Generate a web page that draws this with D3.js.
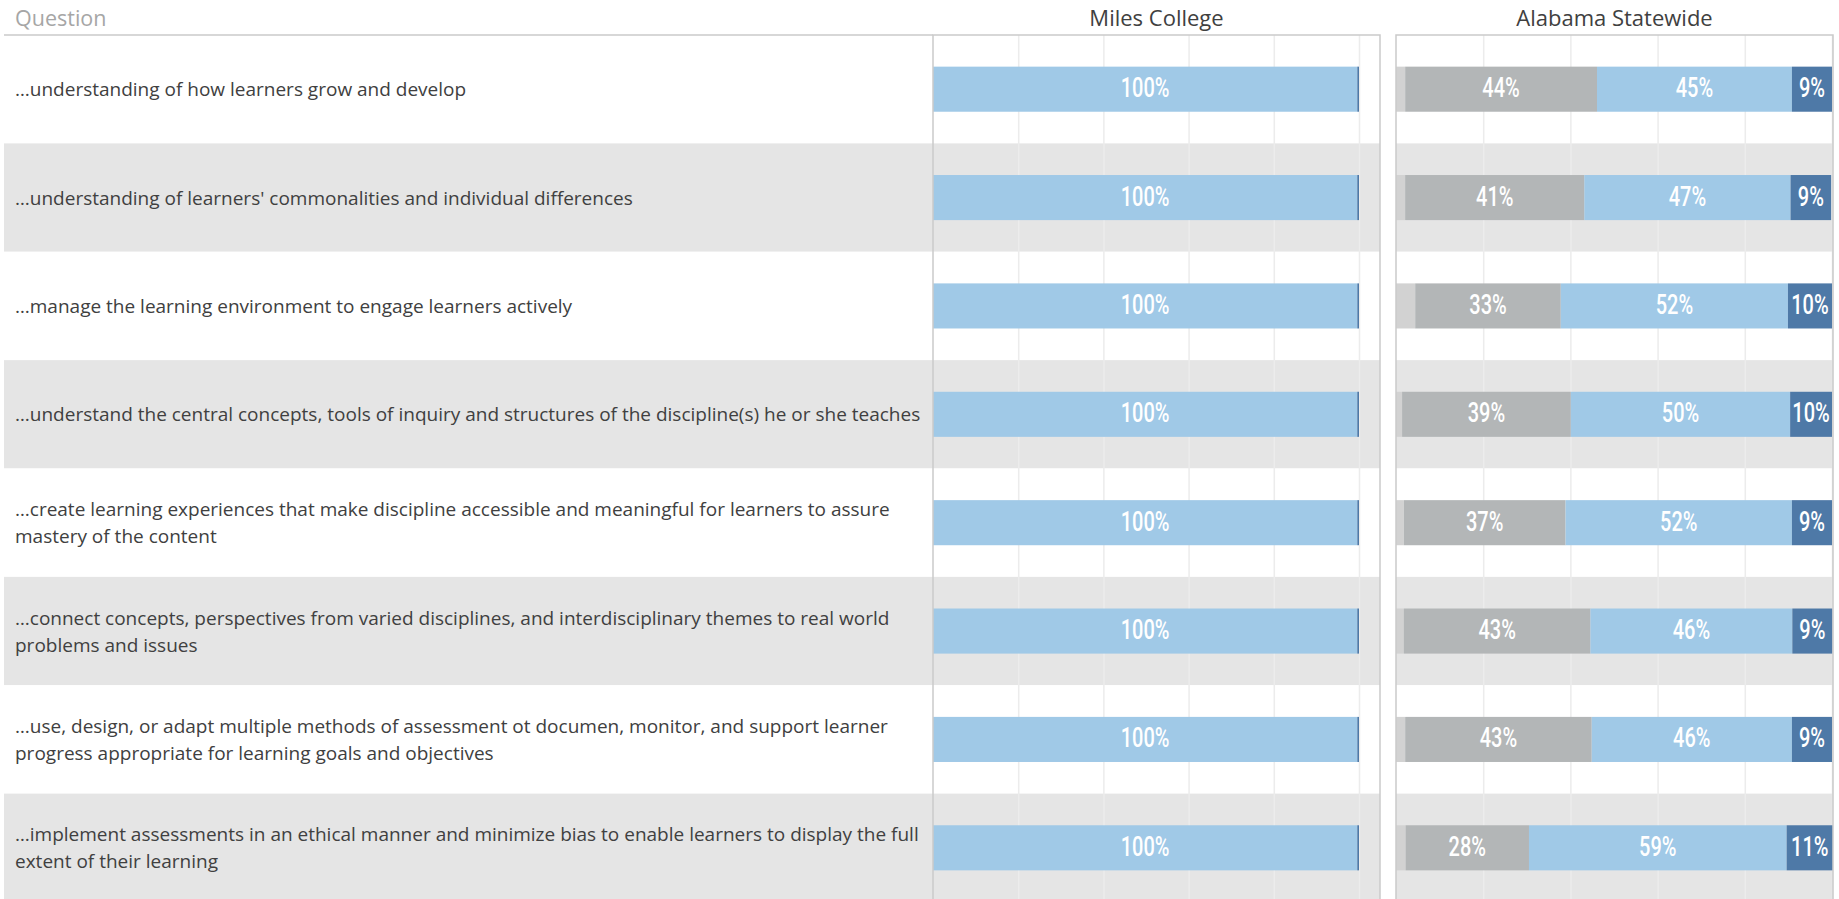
<!DOCTYPE html>
<html lang="en">
<head>
    <meta charset="UTF-8">
    <title>stacked bars</title>
    <script src="https://d3js.org/d3.v7.min.js"></script>
    <style>
        body { margin: 0; background: #fff; overflow: hidden; }
    </style>
</head>
<body>
    <svg></svg>
    <script>
        // questions (line breaks as in the original table)
        const questions = [
            "…understanding of how learners grow and develop",
            "…understanding of learners' commonalities and individual differences",
            "…manage the learning environment to engage learners actively",
            "…understand the central concepts, tools of inquiry and structures of the discipline(s) he or she teaches",
            "…create learning experiences that make discipline accessible and meaningful for learners to assure\nmastery of the content",
            "…connect concepts, perspectives from varied disciplines, and interdisciplinary themes to real world\nproblems and issues",
            "…use, design, or adapt multiple methods of assessment ot documen, monitor, and support learner\nprogress appropriate for learning goals and objectives",
            "…implement assessments in an ethical manner and minimize bias to enable learners to display the full\nextent of their learning"
        ];

        const panelTitles = ["Miles College", "Alabama Statewide"];
        const gridTicks = [20, 40, 60, 80, 100];

        // Miles College (percent)
        const milesLightGray = [0, 0, 0, 0, 0, 0, 0, 0];
        const milesGray      = [0, 0, 0, 0, 0, 0, 0, 0];
        const milesLightBlue = [99.6, 99.6, 99.6, 99.6, 99.6, 99.6, 99.6, 99.6];
        const milesDarkBlue  = [0.4, 0.4, 0.4, 0.4, 0.4, 0.4, 0.4, 0.4];

        // Alabama Statewide (percent)
        const alaLightGray = [2.1, 2.1, 4.4, 1.4, 1.8, 1.8, 2.1, 2.2];
        const alaGray      = [44.0, 41.1, 33.4, 38.7, 37.1, 42.8, 42.8, 28.3];
        const alaLightBlue = [44.7, 47.3, 52.1, 50.3, 51.9, 46.3, 45.9, 59.1];
        const alaDarkBlue  = [9.2, 9.3, 10.1, 9.6, 9.2, 9.2, 9.2, 10.6];

        const keys = ["lightGray", "gray", "lightBlue", "darkBlue"];
        const colors = { lightGray: "#d2d2d2", gray: "#b3b6b7", lightBlue: "#a0c9e7", darkBlue: "#4e79a7" };

        function rows(a, b, c, d) {
            return questions.map((q, i) => ({ q: q, lightGray: a[i], gray: b[i], lightBlue: c[i], darkBlue: d[i] }));
        }
        const milesData = rows(milesLightGray, milesGray, milesLightBlue, milesDarkBlue);
        const alaData = rows(alaLightGray, alaGray, alaLightBlue, alaDarkBlue);

        const W = 1839, H = 899;
        const yTop = 35, yBottom = 902;

        const svg = d3.select("svg").attr("width", W).attr("height", H);

        const yRow = d3.scaleBand().domain(questions).range([yTop, yBottom]);
        const yBar = d3.scaleBand().domain(questions).range([yTop, yBottom])
            .paddingInner(0.584).paddingOuter(0.292);

        const panels = [
            { title: panelTitles[0], data: milesData, x0: 933, x1: 1380,
              x: d3.scaleLinear().domain([0, 100]).range([933, 1359]) },
            { title: panelTitles[1], data: alaData, x0: 1396, x1: 1833,
              x: d3.scaleLinear().domain([0, 100]).range([1396, 1832]) }
        ];

        // row stripes
        const stripeSpans = [[4, 1380], [1396, 1833]];
        stripeSpans.forEach(s => {
            svg.append("g").selectAll("rect")
                .data(questions)
                .join("rect")
                .attr("x", s[0])
                .attr("width", s[1] - s[0])
                .attr("y", d => yRow(d))
                .attr("height", yRow.bandwidth())
                .attr("fill", (d, i) => i % 2 ? "#e5e5e5" : "#ffffff");
        });

        const stack = d3.stack().keys(keys);

        panels.forEach(p => {
            // gridlines
            const grid = svg.append("g")
                .attr("transform", `translate(0,${yTop})`)
                .call(d3.axisTop(p.x).tickValues(gridTicks).tickSize(-(yBottom - yTop)).tickFormat(""));
            grid.select(".domain").remove();
            grid.selectAll(".tick line").attr("stroke", "#ececec").attr("stroke-width", 1.5);

            const series = stack(p.data);
            svg.append("g").selectAll("g")
                .data(series)
                .join("g")
                .attr("fill", d => colors[d.key])
                .selectAll("rect")
                .data(d => d)
                .join("rect")
                .attr("x", d => p.x(d[0]))
                .attr("width", d => p.x(d[1]) - p.x(d[0]))
                .attr("y", d => yBar(d.data.q))
                .attr("height", yBar.bandwidth());

            // value labels
            const labels = [];
            series.forEach(s => s.forEach(d => {
                const v = d[1] - d[0];
                if (s.key !== "lightGray" && v >= 5) {
                    labels.push({ cx: p.x((d[0] + d[1]) / 2), cy: yBar(d.data.q) + yBar.bandwidth() / 2, v: v });
                }
            }));
            svg.append("g").selectAll("text")
                .data(labels)
                .join("text")
                .attr("transform", d => `translate(${d.cx},${d.cy + 8}) scale(0.74,1)`)
                .attr("text-anchor", "middle")
                .attr("fill", "#ffffff")
                .style("font-family", "Roboto, sans-serif")
                .style("font-weight", "500")
                .style("font-size", "27px")
                .text(d => Math.round(d.v) + "%");

            // panel frame
            svg.append("rect")
                .attr("x", p.x0).attr("y", yTop)
                .attr("width", p.x1 - p.x0).attr("height", yBottom - yTop + 2)
                .attr("fill", "none")
                .attr("stroke", "#cacaca")
                .attr("stroke-width", 1.5);

            svg.append("text")
                .attr("x", (p.x0 + p.x1) / 2)
                .attr("y", 26)
                .attr("text-anchor", "middle")
                .attr("fill", "#404040")
                .style("font-family", "'Open Sans', sans-serif")
                .style("font-size", "22px")
                .text(p.title);
        });

        // header line over the question column
        svg.append("line")
            .attr("x1", 4).attr("x2", 933)
            .attr("y1", yTop).attr("y2", yTop)
            .attr("stroke", "#cacaca")
            .attr("stroke-width", 1.5);

        svg.append("text")
            .attr("x", 15).attr("y", 26)
            .attr("fill", "#a6a6a6")
            .style("font-family", "'Open Sans', sans-serif")
            .style("font-size", "21.5px")
            .text("Question");

        // question labels
        const lineGap = 27;
        const qText = svg.append("g").selectAll("text")
            .data(questions)
            .join("text")
            .attr("fill", "#404040")
            .style("font-family", "'Open Sans', sans-serif")
            .style("font-size", "19px");

        qText.each(function(d) {
            const lines = d.split("\n");
            const cy = yRow(d) + yRow.bandwidth() / 2;
            const first = cy - (lines.length - 1) * lineGap / 2 + 7;
            d3.select(this).selectAll("tspan")
                .data(lines)
                .join("tspan")
                .attr("x", 15)
                .attr("y", (l, i) => first + i * lineGap)
                .text(l => l);
        });
    </script>
</body>
</html>
